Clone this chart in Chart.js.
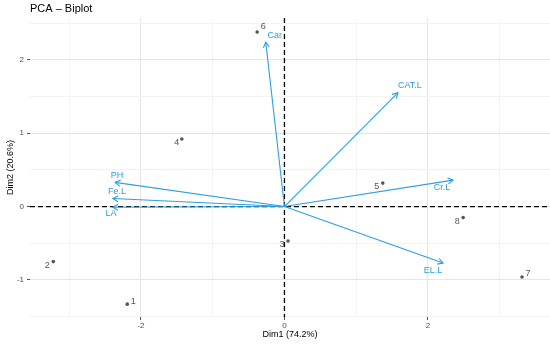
<!DOCTYPE html>
<html>
<head>
<meta charset="utf-8">
<script src="https://cdn.jsdelivr.net/npm/chart.js@4.4.1/dist/chart.umd.min.js"></script>
<style>
  html, body { margin: 0; padding: 0; background: #fff; }
  #wrap { width: 550px; height: 344px; }
</style>
</head>
<body>
<div id="wrap"><canvas id="biplot"></canvas></div>
<script>
// Individus (coordonnées sur Dim1 / Dim2)
const indLabels = ['1', '2', '3', '4', '5', '6', '7', '8'];
const indDim1 = [-2.19, -3.22, 0.05, -1.43, 1.37, -0.38, 3.31, 2.49];
const indDim2 = [-1.33, -0.75, -0.47, 0.92, 0.32, 2.38, -0.96, -0.15];

// Variables (extrémités des flèches)
const varLabels = ['Car', 'CAT.L', 'Cr.L', 'EL.L', 'PH', 'Fe.L', 'LA'];
const varDim1 = [-0.26, 1.58, 2.35, 2.21, -2.36, -2.39, -2.39];
const varDim2 = [2.24, 1.55, 0.36, -0.77, 0.33, 0.11, -0.01];

// Graduations
const xTicks = [-3, -2, -1, 0, 1, 2, 3];
const yTicks = [-1.5, -1, -0.5, 0, 0.5, 1, 1.5, 2, 2.5];

// Décalage des étiquettes (pixels), comme ggrepel
const indNudge = [[6, -3], [-6, 4], [-6, 3], [-5, 3], [-6, 3], [6, -5], [6, -3], [-6, 4]];
const varNudge = [[9, -7], [12, -7], [-11, 7], [-10, 7], [2, -7], [4, -7], [-2, 6]];

const BLUE = '#2E9FDF';
const FONT = "'Liberation Sans', Arial, sans-serif";

// Jeux de données : une flèche par variable + les individus
const datasets = varLabels.map((name, i) => ({
    label: name,
    data: [{ x: 0, y: 0 }, { x: varDim1[i], y: varDim2[i] }],
    showLine: true,
    borderColor: BLUE,
    backgroundColor: BLUE,
    borderWidth: 1.1,
    pointRadius: 0,
    pointHoverRadius: 0
}));
datasets.push({
    label: 'individus',
    data: indDim1.map((x, i) => ({ x: x, y: indDim2[i] })),
    pointRadius: 1.8,
    pointHoverRadius: 1.8,
    pointBackgroundColor: '#555555',
    pointBorderWidth: 0
});

const isMajorX = v => Math.abs(v % 2) < 1e-9;
const isMajorY = v => Math.abs(v % 1) < 1e-9;

// Lignes pointillées, pointes de flèches, étiquettes et titre
const biplotExtras = {
    id: 'biplotExtras',
    beforeDatasetsDraw(chart) {
        const { ctx, chartArea: a, scales: { x, y } } = chart;
        const x0 = x.getPixelForValue(0), y0 = y.getPixelForValue(0);
        ctx.save();
        ctx.strokeStyle = '#000';
        ctx.lineWidth = 1.3;
        ctx.setLineDash([5, 3]);
        ctx.beginPath();
        ctx.moveTo(a.left, y0); ctx.lineTo(a.right, y0);
        ctx.moveTo(x0, a.top); ctx.lineTo(x0, a.bottom);
        ctx.stroke();
        ctx.restore();
    },
    afterDatasetsDraw(chart) {
        const { ctx, scales: { x, y } } = chart;
        const x0 = x.getPixelForValue(0), y0 = y.getPixelForValue(0);
        ctx.save();
        // pointes
        ctx.strokeStyle = BLUE;
        ctx.lineWidth = 1.1;
        varLabels.forEach((name, i) => {
            const px = x.getPixelForValue(varDim1[i]);
            const py = y.getPixelForValue(varDim2[i]);
            const ang = Math.atan2(py - y0, px - x0);
            const len = 6;
            ctx.beginPath();
            ctx.moveTo(px - len * Math.cos(ang - Math.PI / 6), py - len * Math.sin(ang - Math.PI / 6));
            ctx.lineTo(px, py);
            ctx.lineTo(px - len * Math.cos(ang + Math.PI / 6), py - len * Math.sin(ang + Math.PI / 6));
            ctx.stroke();
        });
        // étiquettes
        ctx.textAlign = 'center';
        ctx.textBaseline = 'middle';
        ctx.font = '9px ' + FONT;
        ctx.fillStyle = BLUE;
        varLabels.forEach((name, i) => {
            ctx.fillText(name, x.getPixelForValue(varDim1[i]) + varNudge[i][0],
                y.getPixelForValue(varDim2[i]) + varNudge[i][1]);
        });
        ctx.fillStyle = '#555555';
        indLabels.forEach((name, i) => {
            ctx.fillText(name, x.getPixelForValue(indDim1[i]) + indNudge[i][0],
                y.getPixelForValue(indDim2[i]) + indNudge[i][1]);
        });
        // titre
        ctx.textAlign = 'left';
        ctx.textBaseline = 'alphabetic';
        ctx.fillStyle = '#000';
        ctx.font = '11px ' + FONT;
        ctx.fillText('PCA \u2013 Biplot', 30, 11.5);
        ctx.restore();
    }
};

const ctx = document.getElementById('biplot').getContext('2d');
const biplot = new Chart(ctx, {
    type: 'scatter',
    data: { datasets: datasets },
    options: {
        responsive: true,
        maintainAspectRatio: false,
        animation: false,
        layout: { autoPadding: false, padding: { top: 18, right: 0, left: 0, bottom: 0 } },
        plugins: {
            legend: { display: false },
            tooltip: { enabled: false }
        },
        scales: {
            x: {
                type: 'linear',
                min: -3.545,
                max: 3.70,
                afterBuildTicks: s => { s.ticks = xTicks.map(v => ({ value: v })); },
                afterFit: s => { s.height = 27; s.paddingLeft = 0; s.paddingRight = 0; },
                border: { display: false },
                grid: {
                    color: c => isMajorX(c.tick.value) ? '#E6E6E6' : '#F3F3F3',
                    lineWidth: 1,
                    tickLength: 3,
                    tickColor: c => isMajorX(c.tick.value) ? '#555555' : 'rgba(0,0,0,0)'
                },
                ticks: {
                    autoSkip: false,
                    maxRotation: 0,
                    padding: 1,
                    color: '#4D4D4D',
                    font: { size: 8, family: FONT },
                    callback: v => isMajorX(v) ? String(v) : ''
                },
                title: {
                    display: true,
                    text: 'Dim1 (74.2%)',
                    color: '#000',
                    font: { size: 9, family: FONT },
                    padding: { top: 0, bottom: 3.6 }
                }
            },
            y: {
                type: 'linear',
                min: -1.505,
                max: 2.57,
                afterBuildTicks: s => { s.ticks = yTicks.map(v => ({ value: v })); },
                afterFit: s => { s.width = 30; s.paddingTop = 0; s.paddingBottom = 0; },
                border: { display: false },
                grid: {
                    color: c => isMajorY(c.tick.value) ? '#E6E6E6' : '#F3F3F3',
                    lineWidth: 1,
                    tickLength: 3,
                    tickColor: c => isMajorY(c.tick.value) ? '#555555' : 'rgba(0,0,0,0)'
                },
                ticks: {
                    autoSkip: false,
                    padding: 3,
                    color: '#4D4D4D',
                    font: { size: 8, family: FONT },
                    callback: v => isMajorY(v) ? String(v) : ''
                },
                title: {
                    display: true,
                    text: 'Dim2 (20.6%)',
                    color: '#000',
                    font: { size: 9, family: FONT },
                    padding: { top: 5.6, bottom: 0 }
                }
            }
        }
    },
    plugins: [biplotExtras]
});
</script>
</body>
</html>
